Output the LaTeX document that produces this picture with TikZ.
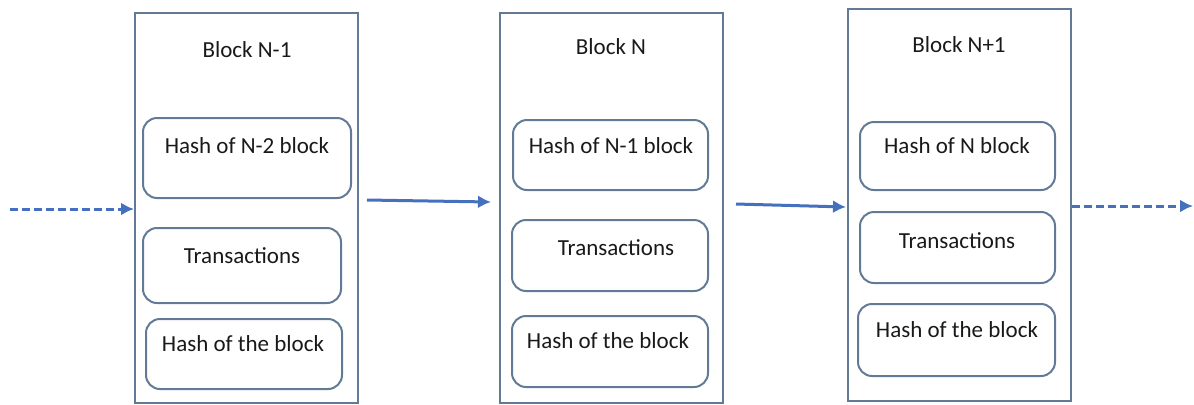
\documentclass[tikz,border=0pt]{standalone}
\usepackage{fontspec}
\setmainfont{Carlito}
\usetikzlibrary{arrows.meta,fit,calc}
\definecolor{boxline}{RGB}{98,122,150}
\definecolor{linkblue}{RGB}{68,112,190}
\definecolor{txt}{RGB}{25,25,25}
\tikzset{
  blockbox/.style={draw=boxline,line width=1pt,inner sep=0pt},
  cellbox/.style={draw=boxline,line width=1pt,inner sep=0pt,rounded corners=7pt},
  lbl/.style={anchor=base,text=txt,inner sep=0pt,font=\fontsize{11.5pt}{14pt}\selectfont},
  link/.style={draw=linkblue,line width=1.5pt,-{Latex[length=6.5pt,width=6.5pt]}},
  linkdash/.style={link,dash pattern=on 4pt off 2pt}
}
\begin{document}
\begin{tikzpicture}[x=0.5pt,y=-0.5pt]
\useasboundingbox (0,0) rectangle (1194,404);

% block N-1
\node[blockbox,fit={(135,13) (358,403)}] (blk1) {};
\node[lbl] (t1) at (247,57) {Block N-1};
\node[cellbox,fit={(143,118) (351,198)}] (c11) {};
\node[cellbox,fit={(143,228) (341,303)}] (c12) {};
\node[cellbox,fit={(146,319) (342,389)}] (c13) {};
\node[lbl] (l11) at (247,153) {Hash of N-2 block};
\node[lbl] (l12) at (242,263) {Transactions};
\node[lbl] (l13) at (243,351) {Hash of the block};

% block N
\node[blockbox,fit={(500,13) (723,403)}] (blk2) {};
\node[lbl] (t2) at (611,54) {Block N};
\node[cellbox,fit={(513,120) (708,190)}] (c21) {};
\node[cellbox,fit={(512,220) (708,291)}] (c22) {};
\node[cellbox,fit={(512,316) (708,387)}] (c23) {};
\node[lbl] (l21) at (611,153) {Hash of N-1 block};
\node[lbl] (l22) at (616,255) {Transactions};
\node[lbl] (l23) at (608,348) {Hash of the block};

% block N+1
\node[blockbox,fit={(848,9) (1071,401)}] (blk3) {};
\node[lbl] (t3) at (959,52) {Block N+1};
\node[cellbox,fit={(860,122) (1055,190)}] (c31) {};
\node[cellbox,fit={(860,212) (1055,283)}] (c32) {};
\node[cellbox,fit={(858,304) (1055,376)}] (c33) {};
\node[lbl] (l31) at (957,153) {Hash of N block};
\node[lbl] (l32) at (957,248) {Transactions};
\node[lbl] (l33) at (957,337) {Hash of the block};

% links
\coordinate (in) at (10,209);
\coordinate (out) at (1193,206);
\draw[linkdash] (in) -- (in -| blk1.west);
\draw[link] ($(blk1.east)+(8,-8)$) -- ($(blk2.west)+(-8,-6)$);
\draw[link] ($(blk2.east)+(12,-4)$) -- ($(blk3.west)+(-1,2)$);
\draw[linkdash] (out -| blk3.east) -- (out);
\end{tikzpicture}
\end{document}
